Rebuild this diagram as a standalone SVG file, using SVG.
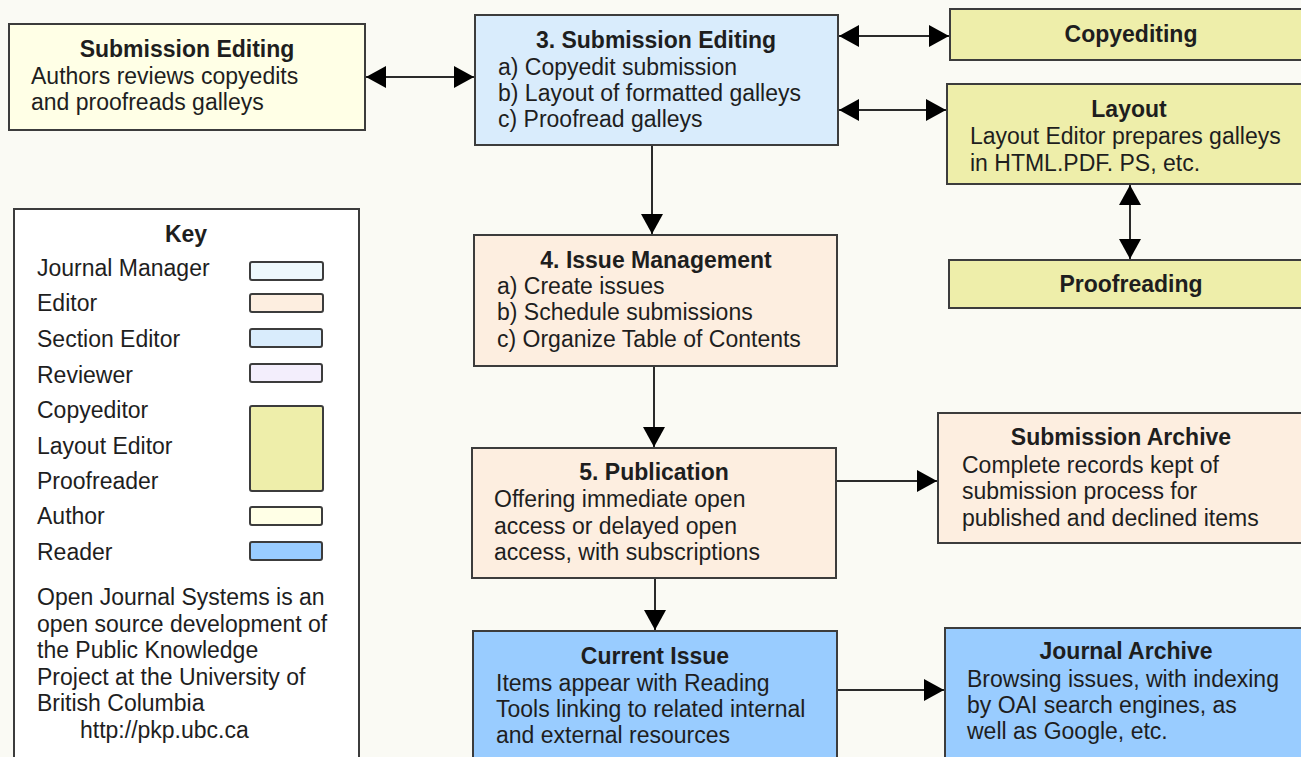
<svg xmlns="http://www.w3.org/2000/svg" width="1301" height="757" viewBox="0 0 1301 757">
<defs>
<style>
.box{stroke:#3c3c3c;stroke-width:2}
.t{font-family:"Liberation Sans",Arial,sans-serif;font-size:23px;fill:#1e1e1e}
.b{font-weight:bold;text-anchor:middle}
.au{fill:#ffffe6}.se{fill:#d9ecfc}.ed{fill:#fdeee0}.ye{fill:#eeeeaa}.rd{fill:#99ccff}.jm{fill:#eef8fc}.rv{fill:#f3eefc}
.c{stroke:#2a2a2a;stroke-width:2;fill:none}
</style>
<marker id="ah" markerUnits="userSpaceOnUse" markerWidth="20" markerHeight="22" refX="20" refY="11" orient="auto-start-reverse">
<path d="M0,0 L20,11 L0,22 z" fill="#000"/>
</marker>
</defs>
<rect width="1301" height="757" fill="#fafaf4"/>

<g id="connectors">
<line class="c" x1="366" y1="77" x2="474" y2="77" marker-start="url(#ah)" marker-end="url(#ah)"/>
<line class="c" x1="839" y1="36" x2="949" y2="36" marker-start="url(#ah)" marker-end="url(#ah)"/>
<line class="c" x1="839" y1="110" x2="946" y2="110" marker-start="url(#ah)" marker-end="url(#ah)"/>
<line class="c" x1="1130" y1="185" x2="1130" y2="259" marker-start="url(#ah)" marker-end="url(#ah)"/>
<line class="c" x1="652" y1="146" x2="652" y2="234" marker-end="url(#ah)"/>
<line class="c" x1="654" y1="367" x2="654" y2="447" marker-end="url(#ah)"/>
<line class="c" x1="655" y1="579" x2="655" y2="630" marker-end="url(#ah)"/>
<line class="c" x1="837" y1="481" x2="937" y2="481" marker-end="url(#ah)"/>
<line class="c" x1="838" y1="690" x2="944" y2="690" marker-end="url(#ah)"/>
</g>

<g id="author-editing">
<rect class="box au" x="9" y="24" width="356" height="106"/>
<text class="t b" x="187" y="57">Submission Editing</text>
<text class="t" x="31" y="84">Authors reviews copyedits</text>
<text class="t" x="31" y="110">and proofreads galleys</text>
</g>

<g id="submission-editing">
<rect class="box se" x="475" y="15" width="363" height="130"/>
<text class="t b" x="656" y="48">3. Submission Editing</text>
<text class="t" x="498" y="75">a) Copyedit submission</text>
<text class="t" x="498" y="101">b) Layout of formatted galleys</text>
<text class="t" x="498" y="127">c) Proofread galleys</text>
</g>

<g id="copyediting">
<rect class="box ye" x="950" y="9" width="362" height="51"/>
<text class="t b" x="1131" y="42">Copyediting</text>
</g>

<g id="layout">
<rect class="box ye" x="947" y="84" width="365" height="100"/>
<text class="t b" x="1129" y="117">Layout</text>
<text class="t" x="970" y="144">Layout Editor prepares galleys</text>
<text class="t" x="970" y="171">in HTML.PDF. PS, etc.</text>
</g>

<g id="proofreading">
<rect class="box ye" x="949" y="260" width="363" height="48"/>
<text class="t b" x="1131" y="292">Proofreading</text>
</g>

<g id="issue-management">
<rect class="box ed" x="474" y="235" width="363" height="131"/>
<text class="t b" x="656" y="268">4. Issue Management</text>
<text class="t" x="497" y="294">a) Create issues</text>
<text class="t" x="497" y="320">b) Schedule submissions</text>
<text class="t" x="497" y="347">c) Organize Table of Contents</text>
</g>

<g id="publication">
<rect class="box ed" x="472" y="448" width="364" height="130"/>
<text class="t b" x="654" y="480">5. Publication</text>
<text class="t" x="494" y="507">Offering immediate open</text>
<text class="t" x="494" y="534">access or delayed open</text>
<text class="t" x="494" y="560">access, with subscriptions</text>
</g>

<g id="current-issue">
<rect class="box rd" x="473" y="631" width="364" height="140"/>
<text class="t b" x="655" y="664">Current Issue</text>
<text class="t" x="496" y="691">Items appear with Reading</text>
<text class="t" x="496" y="717">Tools linking to related internal</text>
<text class="t" x="496" y="743">and external resources</text>
</g>

<g id="submission-archive">
<rect class="box ed" x="938" y="413" width="374" height="130"/>
<text class="t b" x="1121" y="445">Submission Archive</text>
<text class="t" x="962" y="473">Complete records kept of</text>
<text class="t" x="962" y="499">submission process for</text>
<text class="t" x="962" y="526">published and declined items</text>
</g>

<g id="journal-archive">
<rect class="box rd" x="945" y="628" width="367" height="140"/>
<text class="t b" x="1126" y="659">Journal Archive</text>
<text class="t" x="967" y="687">Browsing issues, with indexing</text>
<text class="t" x="967" y="713">by OAI search engines, as</text>
<text class="t" x="967" y="739">well as Google, etc.</text>
</g>

<g id="key">
<rect class="box" fill="#ffffff" x="14" y="209" width="345" height="560"/>
<text class="t b" x="186" y="242">Key</text>
<text class="t" x="37" y="276">Journal Manager</text>
<rect class="box jm" x="250" y="262" width="73" height="18" rx="2"/>
<text class="t" x="37" y="311">Editor</text>
<rect class="box ed" x="250" y="294" width="73" height="18" rx="2"/>
<text class="t" x="37" y="347">Section Editor</text>
<rect class="box se" x="250" y="329" width="72" height="18" rx="2"/>
<text class="t" x="37" y="383">Reviewer</text>
<rect class="box rv" x="250" y="364" width="72" height="18" rx="2"/>
<text class="t" x="37" y="418">Copyeditor</text>
<text class="t" x="37" y="454">Layout Editor</text>
<text class="t" x="37" y="489">Proofreader</text>
<rect class="box ye" x="250" y="406" width="73" height="85" rx="2"/>
<text class="t" x="37" y="524">Author</text>
<rect class="box au" x="250" y="507" width="72" height="18" rx="2"/>
<text class="t" x="37" y="560">Reader</text>
<rect class="box rd" x="250" y="542" width="72" height="18" rx="2"/>
<text class="t" x="37" y="605">Open Journal Systems is an</text>
<text class="t" x="37" y="632">open source development of</text>
<text class="t" x="37" y="658">the Public Knowledge</text>
<text class="t" x="37" y="685">Project at the University of</text>
<text class="t" x="37" y="711">British Columbia</text>
<text class="t" x="80" y="738">http://pkp.ubc.ca</text>
</g>
</svg>
